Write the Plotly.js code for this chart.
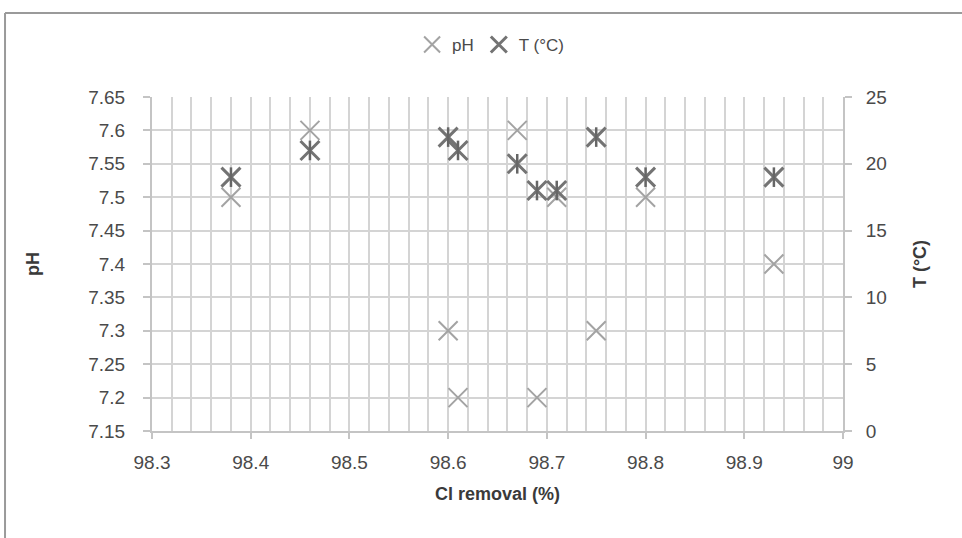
<!DOCTYPE html>
<html>
<head>
<meta charset="utf-8">
<script src="https://cdn.plot.ly/plotly-3.0.1.min.js"></script>
<style>html,body{margin:0;padding:0;background:#fff;}#chart{width:962px;height:538px;}</style>
</head>
<body>
<div id="chart"></div>
<script>
// Data
const clRemoval = [98.38, 98.46, 98.60, 98.61, 98.67, 98.69, 98.71, 98.75, 98.80, 98.93];
const pHValues  = [7.50, 7.60, 7.30, 7.20, 7.60, 7.20, 7.50, 7.30, 7.50, 7.40];
const tempValues = [19, 21, 22, 21, 20, 18, 18, 22, 19, 19];

const xTickVals = [98.3, 98.4, 98.5, 98.6, 98.7, 98.8, 98.9, 99];
const xTickText = ['98.3', '98.4', '98.5', '98.6', '98.7', '98.8', '98.9', '99'];
const pHTickVals = [7.15, 7.2, 7.25, 7.3, 7.35, 7.4, 7.45, 7.5, 7.55, 7.6, 7.65];
const pHTickText = ['7.15', '7.2', '7.25', '7.3', '7.35', '7.4', '7.45', '7.5', '7.55', '7.6', '7.65'];
const tTickVals = [0, 5, 10, 15, 20, 25];
const tTickText = ['0', '5', '10', '15', '20', '25'];

const FONT = 'Liberation Sans, Arial, sans-serif';
const GRID = '#d4d4d4';
const TXT = '#4a4a4a';

const traces = [
  {
    x: clRemoval, y: pHValues, name: 'pH', type: 'scatter', mode: 'markers',
    marker: {symbol: 'x-thin-open', size: 19, color: '#a3a3a3', line: {width: 2, color: '#a3a3a3'}},
    yaxis: 'y'
  },
  {
    x: clRemoval, y: tempValues, name: 'T (°C)', type: 'scatter', mode: 'markers',
    marker: {symbol: 'x-thin-open', size: 19, color: '#737373', line: {width: 3, color: '#737373'}},
    yaxis: 'y2'
  },
  {
    x: clRemoval, y: tempValues, name: 'T (°C)', type: 'scatter', mode: 'markers', showlegend: false,
    hoverinfo: 'skip',
    marker: {symbol: 'line-ns-open', size: 14, color: '#666666', line: {width: 2.5, color: '#666666'}},
    yaxis: 'y2'
  }
];

const layout = {
  width: 962, height: 538,
  margin: {l: 152, r: 119, t: 97, b: 107},
  paper_bgcolor: '#ffffff', plot_bgcolor: '#ffffff',
  font: {family: FONT, size: 19, color: TXT},
  showlegend: true,
  legend: {
    orientation: 'h', x: 0.49, xanchor: 'center', y: 1.156, yanchor: 'middle',
    font: {family: FONT, size: 17, color: TXT}, itemwidth: 30, tracegroupgap: 0
  },
  xaxis: {
    range: [98.3, 99], tickvals: xTickVals, ticktext: xTickText,
    showgrid: true, gridcolor: GRID, gridwidth: 2,
    minor: {dtick: 0.02, tick0: 98.3, showgrid: true, gridcolor: GRID, gridwidth: 2},
    showline: true, linecolor: '#c4c4c4', linewidth: 2,
    ticks: 'outside', ticklen: 6, tickcolor: '#c4c4c4', tickwidth: 2,
    ticklabelstandoff: 7,
    zeroline: false, automargin: false,
    title: {text: '<b>Cl removal (%)</b>', font: {family: FONT, size: 18, color: '#3a3a3a'}, standoff: 16}
  },
  yaxis: {
    range: [7.15, 7.65], tickvals: pHTickVals, ticktext: pHTickText,
    showgrid: true, gridcolor: GRID, gridwidth: 2,
    showline: true, linecolor: '#c4c4c4', linewidth: 2,
    ticks: 'outside', ticklen: 7, tickcolor: '#c4c4c4', tickwidth: 2,
    ticklabelstandoff: 14,
    zeroline: false, automargin: false,
    title: {text: '<b>pH</b>', font: {family: FONT, size: 18, color: '#3a3a3a'}, standoff: 44}
  },
  yaxis2: {
    range: [0, 25], tickvals: tTickVals, ticktext: tTickText,
    overlaying: 'y', side: 'right',
    showgrid: false, showline: true, linecolor: '#c4c4c4', linewidth: 2,
    ticks: 'outside', ticklen: 7, tickcolor: '#c4c4c4', tickwidth: 2,
    ticklabelstandoff: 10,
    zeroline: false, automargin: false,
    title: {text: '<b>T (°C)</b>', font: {family: FONT, size: 18, color: '#3a3a3a'}, standoff: 27}
  },
  shapes: [
    {type: 'line', xref: 'paper', yref: 'paper', x0: -0.2127, x1: 1.2, y0: 1.2515, y1: 1.2515,
     line: {color: '#9a9a9a', width: 2}},
    {type: 'line', xref: 'paper', yref: 'paper', x0: -0.2127, x1: -0.2127, y0: 1.2515, y1: -0.35,
     line: {color: '#9a9a9a', width: 2}}
  ]
};

Plotly.newPlot('chart', traces, layout, {displayModeBar: false, staticPlot: true});
</script>
</body>
</html>
